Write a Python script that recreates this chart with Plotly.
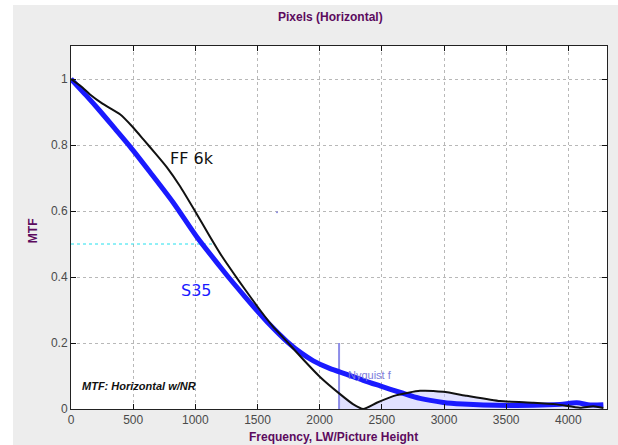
import numpy as np
import plotly.graph_objects as go

# MTF curves (frequency in LW/PH)
ff6k_freq = [0, 80, 153, 250, 394, 500, 582, 680, 770, 877, 997, 1118, 1210, 1306, 1400, 1520, 1620, 1735, 1868, 2003,
             2164, 2271, 2351, 2459, 2620, 2807, 2995, 3183, 3451, 3719, 3907, 4094, 4200, 4282]
ff6k_mtf = [1.0, 0.978, 0.953, 0.926, 0.893, 0.853, 0.817, 0.774, 0.733, 0.675, 0.600, 0.522, 0.465, 0.412, 0.362, 0.300, 0.252, 0.205, 0.150, 0.097,
            0.045, 0.014, 0.0, 0.019, 0.042, 0.055, 0.052, 0.040, 0.024, 0.019, 0.014, 0.004, 0.008, 0.003]

s35_freq = [0, 120, 233, 350, 475, 635, 823, 1011, 1198, 1279, 1400, 1494, 1600, 1735, 1850, 1949,
            2080, 2218, 2350, 2486, 2650, 2807, 2995, 3150, 3317, 3719, 3934, 4068, 4175, 4282]
s35_mtf = [1.0, 0.951, 0.903, 0.851, 0.795, 0.718, 0.625, 0.522, 0.432, 0.394, 0.340, 0.299, 0.255, 0.205, 0.170, 0.146,
           0.123, 0.105, 0.087, 0.070, 0.050, 0.032, 0.020, 0.015, 0.012, 0.011, 0.014, 0.019, 0.012, 0.013]

nyquist = 2156
mtf50_ff6k = 1142
stray_dot = (1657, 0.596)

x_ticks = [0, 500, 1000, 1500, 2000, 2500, 3000, 3500, 4000]
y_ticks = [0, 0.2, 0.4, 0.6, 0.8, 1.0]
y_tick_text = ["0", "0.2", "0.4", "0.6", "0.8", "1"]

title_purple = "#5c0b5e"
axis_font = dict(family="Liberation Sans, Arial, sans-serif", size=12, color="#4a4a4a")

fig = go.Figure()

# shaded region above Nyquist, under the FF 6k curve
fx = np.array(ff6k_freq, dtype=float)
fy = np.array(ff6k_mtf, dtype=float)
mask = fx > nyquist
fill_x = [nyquist] + fx[mask].tolist()
fill_y = [float(np.interp(nyquist, fx, fy))] + fy[mask].tolist()
fig.add_trace(go.Scatter(x=fill_x, y=fill_y, mode="lines", line=dict(width=0),
                         fill="tozeroy", fillcolor="rgba(200,200,255,0.55)",
                         hoverinfo="skip", showlegend=False))

# MTF50 marker line
fig.add_trace(go.Scatter(x=[0, mtf50_ff6k], y=[0.5, 0.5], mode="lines",
                         line=dict(color="#22e0ee", width=1, dash="dot"), showlegend=False))

# Nyquist frequency marker
fig.add_trace(go.Scatter(x=[nyquist, nyquist], y=[0, 0.2], mode="lines",
                         line=dict(color="#8c8ce8", width=2), showlegend=False))

fig.add_trace(go.Scatter(x=s35_freq, y=s35_mtf, mode="lines", name="S35",
                         line=dict(color="#1a1aff", width=5, shape="spline", smoothing=0.8),
                         showlegend=False))
fig.add_trace(go.Scatter(x=ff6k_freq, y=ff6k_mtf, mode="lines", name="FF 6k",
                         line=dict(color="#111111", width=2, shape="spline", smoothing=0.5),
                         showlegend=False))

fig.add_trace(go.Scatter(x=[stray_dot[0]], y=[stray_dot[1]], mode="markers",
                         marker=dict(color="#8a8ae0", size=2), showlegend=False))

fig.add_annotation(x=2212, y=0.103, text="Nyquist f", showarrow=False, xanchor="left",
                   font=dict(family="Liberation Sans, Arial", size=11, color="#7c7cdc"))
fig.add_annotation(x=973, y=0.76, text="FF 6k", showarrow=False,
                   font=dict(family="DejaVu Sans, sans-serif", size=16, color="#111111"))
fig.add_annotation(x=1013, y=0.359, text="S35", showarrow=False,
                   font=dict(family="DejaVu Sans, sans-serif", size=16, color="#1a1aff"))
fig.add_annotation(x=72, y=0.07, text="<b><i>MTF: Horizontal w/NR</i></b>", showarrow=False,
                   xanchor="left", font=dict(family="Liberation Sans, Arial", size=11, color="#111111"))

# chart and axis titles
fig.add_annotation(xref="paper", yref="paper", x=0.485, y=(409 - 17) / 363, yanchor="middle",
                   xanchor="center", text="<b>Pixels (Horizontal)</b>", showarrow=False,
                   font=dict(family="Liberation Sans, Arial", size=12, color=title_purple))
fig.add_annotation(xref="paper", yref="paper", x=(33 - 71) / 536, y=0.49, textangle=-90,
                   xanchor="center", yanchor="middle", text="<b>MTF</b>", showarrow=False,
                   font=dict(family="Liberation Sans, Arial", size=12, color=title_purple))
fig.add_annotation(xref="paper", yref="paper", x=0.49, y=(409 - 445) / 363, yanchor="bottom",
                   xanchor="center", text="<b>Frequency, LW/Picture Height</b>", showarrow=False,
                   borderpad=0, font=dict(family="Liberation Sans, Arial", size=12, color=title_purple))

# white strips along the top and left of the grey figure panel
fig.add_shape(type="rect", xref="paper", yref="paper", x0=-0.2, x1=(13 - 71) / 536,
              y0=-0.2, y1=1.3, fillcolor="white", line=dict(width=0), layer="below")
fig.add_shape(type="rect", xref="paper", yref="paper", x0=-0.2, x1=1.2,
              y0=(409 - 5) / 363, y1=1.3, fillcolor="white", line=dict(width=0), layer="below")

grid = dict(showgrid=True, gridcolor="#b8b8b8", gridwidth=1, griddash="dot",
            ticks="inside", ticklen=5, tickcolor="#111111", showline=True,
            linecolor="#222222", linewidth=1, mirror="ticks", zeroline=False,
            tickfont=axis_font)

fig.update_xaxes(range=[0, 4311], tickvals=x_ticks, **grid)
fig.update_yaxes(range=[0, 1.10], tickvals=y_ticks, ticktext=y_tick_text, **grid)

fig.update_layout(width=618, height=445,
                  margin=dict(l=71, r=11, t=46, b=36),
                  paper_bgcolor="#ededed", plot_bgcolor="white",
                  showlegend=False)

fig.write_html("out.html")
